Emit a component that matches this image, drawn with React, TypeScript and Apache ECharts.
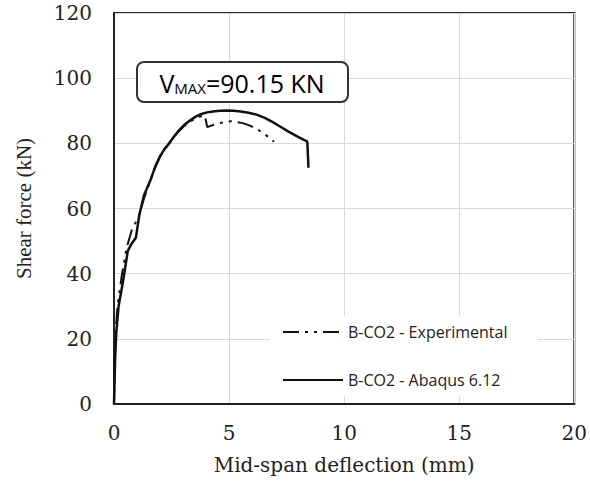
import React, { useEffect, useRef } from "react";
import * as echarts from "echarts";

const xTicks = [0, 5, 10, 15, 20];
const yTicks = [0, 20, 40, 60, 80, 100, 120];

const seriesNames = ["B-CO2 - Experimental", "B-CO2 - Abaqus 6.12"];

const experimental: [number, number][] = [
  [0, 0], [0.03, 14], [0.07, 22], [0.15, 30], [0.35, 40], [0.55, 48], [0.8, 54],
  [1.05, 57], [1.3, 63], [1.6, 69], [1.8, 72.8], [2.0, 76], [2.25, 78.8],
  [2.5, 81], [2.75, 83.2], [3.0, 85], [3.25, 86.4], [3.5, 87.5], [3.75, 88.2],
  [3.95, 88.5], [4.05, 85], [4.3, 85.6], [4.7, 86.4], [5.1, 86.8],
  [5.6, 86.2], [5.85, 85.6], [6.1, 84.8], [6.3, 84], [6.5, 83], [6.75, 81.8], [6.95, 80.5],
];

const abaqus: [number, number][] = [
  [0, 0], [0.05, 14], [0.1, 22], [0.2, 30], [0.4, 38], [0.6, 47], [0.75, 49],
  [0.95, 51], [1.1, 58], [1.3, 64], [1.6, 69], [1.8, 73], [2.0, 76],
  [2.2, 78.3], [2.4, 80], [2.6, 82], [2.8, 83.8], [3.05, 85.6], [3.3, 87],
  [3.55, 88.2], [3.8, 89], [4.05, 89.5], [4.3, 89.8], [4.6, 90], [4.9, 90.1],
  [5.2, 90], [5.5, 89.8], [5.85, 89.4], [6.2, 88.8], [6.55, 87.8], [6.9, 86.5],
  [7.25, 85], [7.6, 83.5], [8.0, 82], [8.4, 80.5], [8.45, 72.5],
];

const annotation = { main: "V", sub: "MAX", rest: "=90.15 KN" };

export default function App() {
  const ref = useRef<HTMLDivElement>(null);
  useEffect(() => {
    if (!ref.current) return;
    const chart = echarts.init(ref.current, undefined, { renderer: "svg" });
    const serif = "DejaVu Serif";
    const sans = "Open Sans";
    chart.setOption({
      animation: false,
      backgroundColor: "#fff",
      grid: {
        left: 114,
        right: 11,
        top: 13,
        bottom: 77,
        show: true,
        borderColor: "#222",
        borderWidth: 2,
        backgroundColor: "transparent",
      },
      xAxis: {
        type: "value",
        min: xTicks[0],
        max: xTicks[xTicks.length - 1],
        interval: 5,
        name: "Mid-span deflection (mm)",
        nameLocation: "middle",
        nameGap: 51,
        nameTextStyle: { fontFamily: serif, fontSize: 20, color: "#222" },
        axisLine: { show: true, lineStyle: { color: "#222", width: 2 } },
        axisTick: { show: false },
        axisLabel: { fontFamily: serif, fontSize: 20, color: "#222", margin: 19 },
        splitLine: { show: true, lineStyle: { color: "#d9d9d9", width: 1 } },
      },
      yAxis: {
        type: "value",
        min: yTicks[0],
        max: yTicks[yTicks.length - 1],
        interval: 20,
        name: "Shear force (kN)",
        nameLocation: "middle",
        nameGap: 80,
        nameTextStyle: { fontFamily: "Liberation Serif", fontSize: 21, color: "#222" },
        axisLine: { show: true, lineStyle: { color: "#222", width: 2 } },
        axisTick: { show: false },
        axisLabel: { fontFamily: serif, fontSize: 20, color: "#222", margin: 22 },
        splitLine: { show: true, lineStyle: { color: "#d9d9d9", width: 1 } },
      },
      legend: {
        orient: "vertical",
        left: 270,
        top: 316,
        itemWidth: 60,
        itemHeight: 14,
        itemGap: 32,
        padding: [8, 30, 8, 12],
        backgroundColor: "#fff",
        itemStyle: { opacity: 0 },
        textStyle: { fontFamily: sans, fontSize: 16, color: "#222" },
        data: seriesNames,
      },
      series: [
        {
          name: seriesNames[0],
          type: "line",
          data: experimental,
          showSymbol: false,
          symbol: "none",
          itemStyle: { color: "#111" },
          lineStyle: { color: "#111", width: 2, type: [16, 6, 3, 6, 3, 6] },
          z: 3,
        },
        {
          name: seriesNames[1],
          type: "line",
          data: abaqus,
          showSymbol: false,
          symbol: "none",
          itemStyle: { color: "#111" },
          lineStyle: { color: "#111", width: 2.5, type: "solid" },
          z: 2,
        },
      ],
      graphic: [
        {
          type: "rect",
          shape: { x: 137, y: 62, width: 211, height: 40, r: 7 },
          style: { fill: "#fff", stroke: "#333", lineWidth: 2 },
          z: 10,
        },
        {
          type: "text",
          x: 242,
          y: 83,
          z: 11,
          style: {
            text: `{a|${annotation.main}}{b|${annotation.sub}}{a|${annotation.rest}}`,
            align: "center",
            verticalAlign: "middle",
            rich: {
              a: { fontFamily: sans, fontSize: 25, color: "#222", verticalAlign: "bottom" },
              b: { fontFamily: sans, fontSize: 15, color: "#222", verticalAlign: "bottom" },
            },
          },
        },
      ],
    });
    return () => chart.dispose();
  }, []);
  return (
    <div
      ref={ref}
      style={{ position: "absolute", left: 0, top: 0, width: 590, height: 481 }}
    />
  );
}
